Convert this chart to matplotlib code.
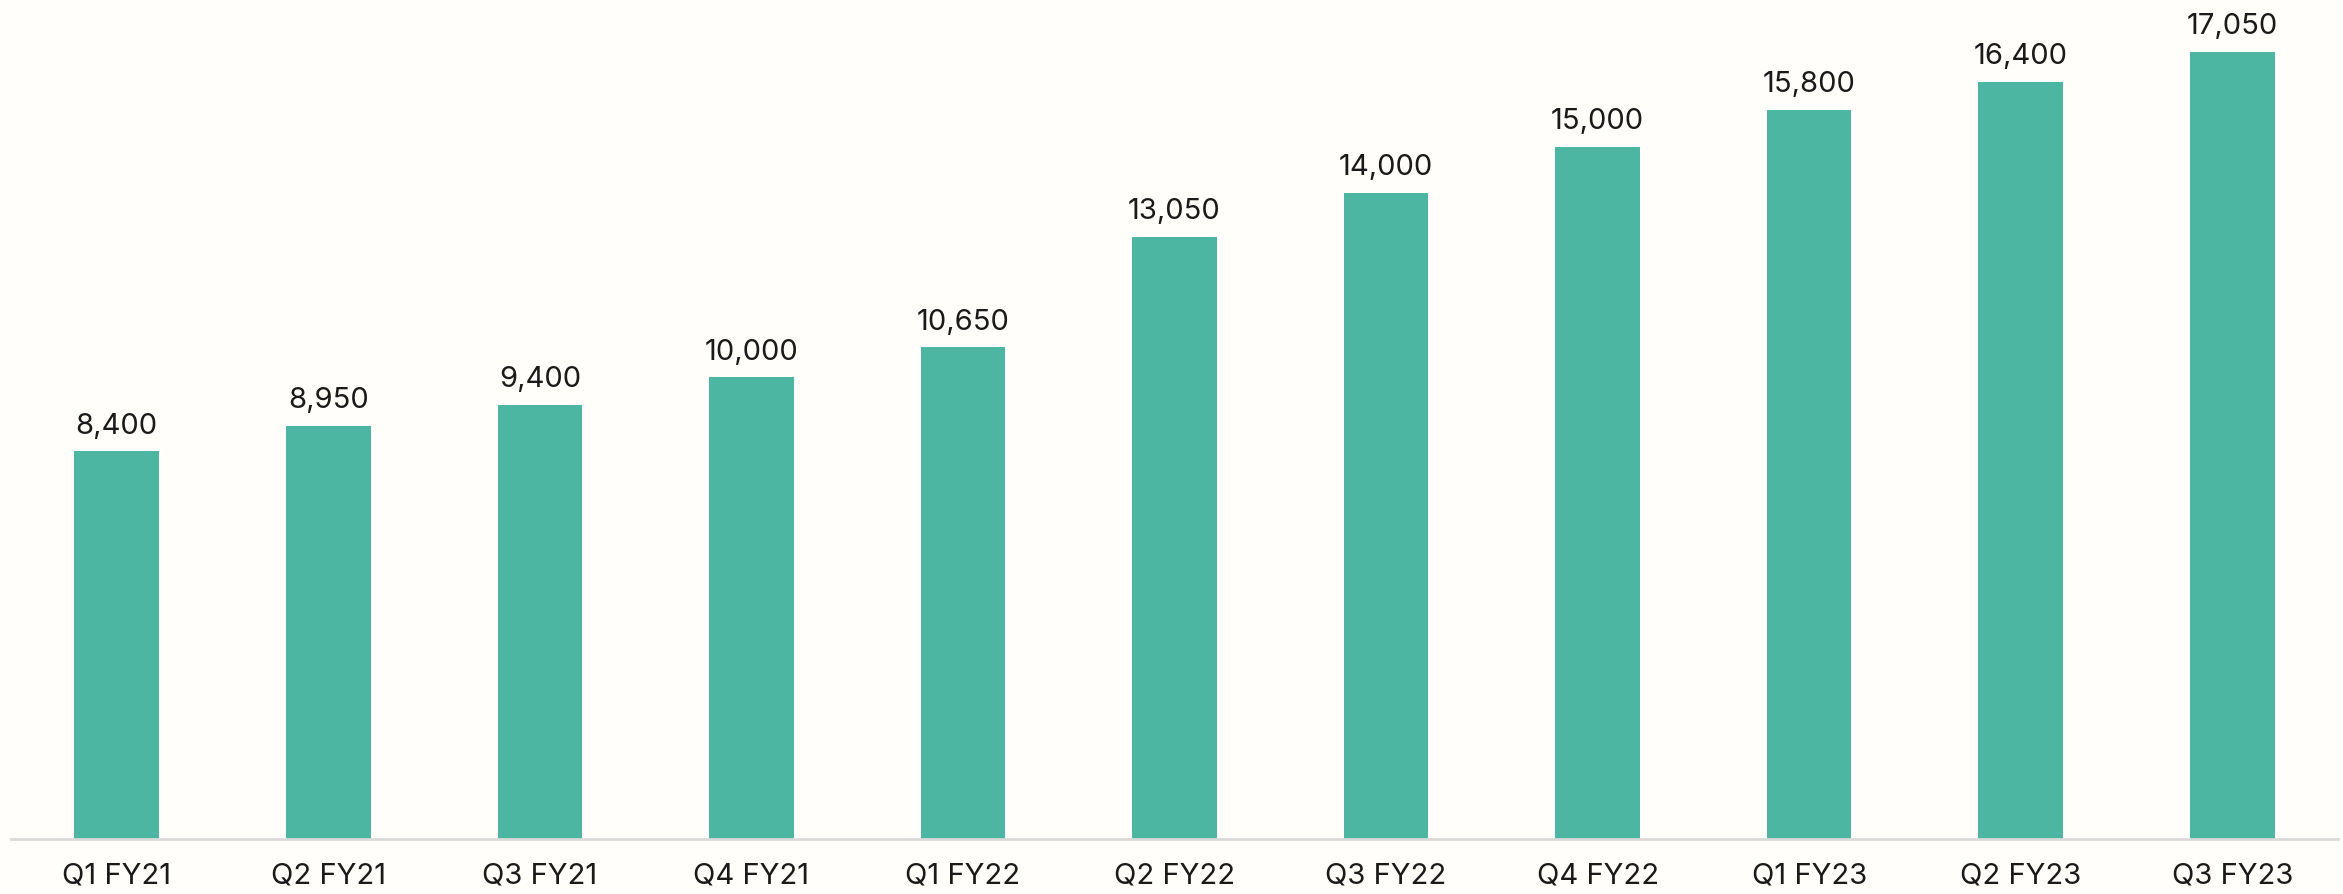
import matplotlib
matplotlib.use('Agg')
import matplotlib.pyplot as plt
import numpy as np

######################################################################

# DATA

quarters = ['Q1 FY21', 'Q2 FY21', 'Q3 FY21', 'Q4 FY21', 'Q1 FY22', 'Q2 FY22',
            'Q3 FY22', 'Q4 FY22', 'Q1 FY23', 'Q2 FY23', 'Q3 FY23']
values = [8400, 8950, 9400, 10000, 10650, 13050, 14000, 15000, 15800, 16400, 17050]

bar_color = '#4DB6A3'
bg_color = '#FFFEFA'
text_color = '#1A1A1A'

######################################################################

# PLOT

plt.rcParams['font.family'] = ['Inter', 'DejaVu Sans']

fig = plt.figure(figsize=(23.43, 8.95), dpi=100, facecolor=bg_color)
ax = fig.add_axes([11 / 2343, 55 / 895, (2338 - 11) / 2343, 840 / 895])
ax.set_facecolor(bg_color)

x = np.arange(len(quarters))
bars = ax.bar(x, values, width=0.4, color=bar_color)

for xi, v in zip(x, values):
    ax.annotate(f'{v:,}', (xi, v), xytext=(0, 13.5), textcoords='offset points',
                ha='center', va='baseline', fontsize=21, color=text_color)

ax.set_xlim(-0.5, len(quarters) - 0.5)
ax.set_ylim(0, 18200)
ax.set_xticks(x)
ax.set_xticklabels(quarters, fontsize=21, color=text_color)
ax.tick_params(axis='x', length=0, pad=16)
ax.set_yticks([])

for side in ['top', 'right', 'left']:
    ax.spines[side].set_visible(False)
ax.spines['bottom'].set_color('#D9D9D9')
ax.spines['bottom'].set_linewidth(2)

fig.savefig('out.png', dpi=100, facecolor=bg_color)
